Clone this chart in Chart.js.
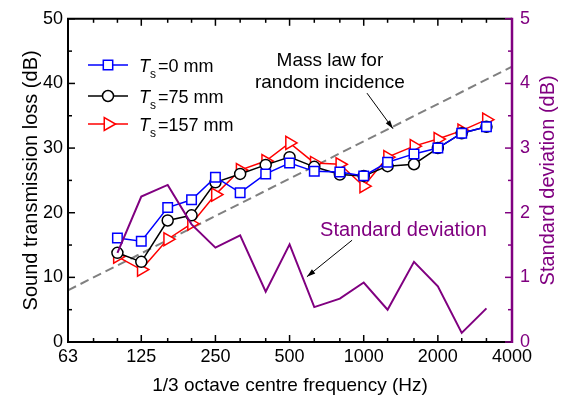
<!DOCTYPE html>
<html>
<head>
<meta charset="utf-8">
<script src="https://cdn.jsdelivr.net/npm/chart.js@4.4.1/dist/chart.umd.min.js"></script>
<style>
  html, body { margin: 0; padding: 0; background: #fff; }
  canvas { display: block; }
</style>
</head>
<body>
<canvas id="stlChart" width="564" height="400"></canvas>
<script>
// 1/3 octave band centres (Hz)
const freqs = [100, 125, 160, 200, 250, 315, 400, 500, 630, 800, 1000, 1250, 1600, 2000, 2500, 3150];
// sound transmission loss (dB)
const stl0 = [16.1, 15.6, 20.8, 22.0, 25.5, 23.1, 26.0, 27.7, 26.4, 26.3, 25.7, 27.8, 29.1, 30.0, 32.3, 33.3];
const stl75 = [13.8, 12.4, 18.8, 19.6, 24.7, 26.0, 27.4, 28.6, 27.1, 25.9, 25.7, 27.2, 27.5, 30.0, 32.3, 33.3];
const stl157 = [13.2, 11.2, 15.9, 18.3, 22.8, 26.6, 28.0, 30.8, 27.7, 27.5, 24.1, 28.6, 30.3, 31.4, 32.7, 34.4];
// standard deviation (dB), right axis
const stdDev = [1.38, 2.25, 2.43, 1.82, 1.46, 1.65, 0.78, 1.51, 0.54, 0.67, 0.92, 0.50, 1.24, 0.86, 0.14, 0.52];
// mass law for random incidence (end points)
const massLawFreqs = [63, 4000];
const massLawTL = [8.0, 42.6];

const xMajorTicks = [63, 125, 250, 500, 1000, 2000, 4000];
const xMinorTicks = [80, 100, 160, 200, 315, 400, 630, 800, 1250, 1600, 2500, 3150];
const yTicks = [0, 10, 20, 30, 40, 50];
const yMinorTicks = [5, 15, 25, 35, 45];
const y1Ticks = [0, 1, 2, 3, 4, 5];
const y1MinorTicks = [0.5, 1.5, 2.5, 3.5, 4.5];

const legendLabels = ['0 mm', '75 mm', '157 mm'];

const PURPLE = '#800080';
const FONT = "'Liberation Sans', Arial, sans-serif";

const toPoints = (xs, ys) => xs.map((x, i) => ({ x: x, y: ys[i] }));

function drawMarker(ctx, style, x, y, color) {
    ctx.save();
    ctx.fillStyle = '#fff';
    ctx.strokeStyle = color;
    ctx.lineWidth = 1.5;
    ctx.beginPath();
    if (style === 'rect') {
        ctx.rect(x - 4.7, y - 4.7, 9.4, 9.4);
    } else if (style === 'circle') {
        ctx.arc(x, y, 5.5, 0, Math.PI * 2);
    } else {
        const r = 7.5;
        ctx.moveTo(x + r, y);
        ctx.lineTo(x + r * Math.cos(2 * Math.PI / 3), y + r * Math.sin(2 * Math.PI / 3));
        ctx.lineTo(x + r * Math.cos(4 * Math.PI / 3), y + r * Math.sin(4 * Math.PI / 3));
        ctx.closePath();
    }
    ctx.fill();
    ctx.stroke();
    ctx.restore();
}

function drawArrow(ctx, x0, y0, x1, y1) {
    const ang = Math.atan2(y1 - y0, x1 - x0);
    ctx.beginPath();
    ctx.moveTo(x0, y0);
    ctx.lineTo(x1, y1);
    ctx.stroke();
    ctx.beginPath();
    ctx.moveTo(x1, y1);
    ctx.lineTo(x1 - 9 * Math.cos(ang - 0.3), y1 - 9 * Math.sin(ang - 0.3));
    ctx.lineTo(x1 - 9 * Math.cos(ang + 0.3), y1 - 9 * Math.sin(ang + 0.3));
    ctx.closePath();
    ctx.fill();
}

// axis frame with inward ticks
const framePlugin = {
    id: 'frame',
    afterDatasetsDraw(chart) {
        const { ctx, chartArea: a, scales } = chart;
        const line = (x0, y0, x1, y1) => {
            ctx.beginPath();
            ctx.moveTo(x0, y0);
            ctx.lineTo(x1, y1);
            ctx.stroke();
        };
        ctx.save();
        ctx.lineWidth = 1.5;
        ctx.strokeStyle = '#000';
        xMajorTicks.forEach(v => {
            const px = scales.x.getPixelForValue(v);
            line(px, a.bottom, px, a.bottom - 7);
            line(px, a.top, px, a.top + 7);
        });
        xMinorTicks.forEach(v => {
            const px = scales.x.getPixelForValue(v);
            line(px, a.bottom, px, a.bottom - 4);
            line(px, a.top, px, a.top + 4);
        });
        yTicks.forEach(v => {
            const py = scales.y.getPixelForValue(v);
            line(a.left, py, a.left + 7, py);
        });
        yMinorTicks.forEach(v => {
            const py = scales.y.getPixelForValue(v);
            line(a.left, py, a.left + 4, py);
        });
        ctx.lineWidth = 2;
        ctx.beginPath();
        ctx.moveTo(a.right, a.top);
        ctx.lineTo(a.left, a.top);
        ctx.lineTo(a.left, a.bottom);
        ctx.lineTo(a.right, a.bottom);
        ctx.stroke();

        ctx.strokeStyle = PURPLE;
        ctx.lineWidth = 1.5;
        y1Ticks.forEach(v => {
            const py = scales.y1.getPixelForValue(v);
            line(a.right, py, a.right - 7, py);
        });
        y1MinorTicks.forEach(v => {
            const py = scales.y1.getPixelForValue(v);
            line(a.right, py, a.right - 4, py);
        });
        ctx.lineWidth = 2.5;
        line(a.right, a.top - 1, a.right, a.bottom + 1);
        ctx.restore();
    }
};

// legend, right axis title and text notes
const notesPlugin = {
    id: 'notes',
    afterDraw(chart) {
        const { ctx, chartArea: a, scales } = chart;
        const sx = v => scales.x.getPixelForValue(v);
        const sy = v => scales.y.getPixelForValue(v);
        const sy1 = v => scales.y1.getPixelForValue(v);
        ctx.save();

        // legend
        const styles = [['rect', '#0000ff'], ['circle', '#000'], ['triangle', '#ff0000']];
        const rowsY = [65, 96, 124];
        styles.forEach((s, i) => {
            const y = rowsY[i];
            ctx.strokeStyle = s[1];
            ctx.lineWidth = 1.5;
            ctx.beginPath();
            ctx.moveTo(88, y);
            ctx.lineTo(128, y);
            ctx.stroke();
            drawMarker(ctx, s[0], 108, y, s[1]);
            ctx.fillStyle = '#000';
            ctx.textAlign = 'left';
            ctx.textBaseline = 'alphabetic';
            ctx.font = 'italic 18px ' + FONT;
            ctx.fillText('T', 139, y + 7);
            ctx.font = '12px ' + FONT;
            ctx.fillText('s', 150, y + 13);
            ctx.font = '18px ' + FONT;
            ctx.fillText('=' + legendLabels[i], 158, y + 7);
        });

        // right axis title
        ctx.save();
        ctx.translate(548, (a.top + a.bottom) / 2);
        ctx.rotate(-Math.PI / 2);
        ctx.fillStyle = PURPLE;
        ctx.font = '20px ' + FONT;
        ctx.textAlign = 'center';
        ctx.textBaseline = 'middle';
        ctx.fillText('Standard deviation (dB)', 0, 0);
        ctx.restore();

        // mass law note
        ctx.fillStyle = '#000';
        ctx.strokeStyle = '#000';
        ctx.lineWidth = 1;
        ctx.font = '19px ' + FONT;
        ctx.textAlign = 'center';
        ctx.textBaseline = 'alphabetic';
        ctx.fillText('Mass law for', sx(729), sy(42.7));
        ctx.fillText('random incidence', sx(729), sy(39.3));
        drawArrow(ctx, sx(1031), sy(38.5), sx(1315), sy(33.0));

        // standard deviation note
        ctx.fillStyle = PURPLE;
        ctx.font = '20px ' + FONT;
        ctx.textAlign = 'left';
        ctx.fillText('Standard deviation', sx(665), sy1(1.64));
        ctx.fillStyle = '#000';
        drawArrow(ctx, sx(897), sy1(1.575), sx(588), sy1(1.01));

        ctx.restore();
    }
};

const tickFont = { family: FONT, size: 18 };

new Chart(document.getElementById('stlChart'), {
    type: 'line',
    data: {
        datasets: [{
            label: 'Standard deviation',
            data: toPoints(freqs, stdDev),
            yAxisID: 'y1',
            borderColor: PURPLE,
            borderWidth: 2,
            pointRadius: 0,
            fill: false
        }, {
            label: 'Ts=0 mm',
            data: toPoints(freqs, stl0),
            yAxisID: 'y',
            borderColor: '#0000ff',
            borderWidth: 1.5,
            pointStyle: 'rect',
            pointRadius: 6.7,
            pointBorderWidth: 1.5,
            pointBorderColor: '#0000ff',
            pointBackgroundColor: '#fff',
            fill: false
        }, {
            label: 'Ts=75 mm',
            data: toPoints(freqs, stl75),
            yAxisID: 'y',
            borderColor: '#000',
            borderWidth: 1.5,
            pointStyle: 'circle',
            pointRadius: 5.5,
            pointBorderWidth: 1.5,
            pointBorderColor: '#000',
            pointBackgroundColor: '#fff',
            fill: false
        }, {
            label: 'Ts=157 mm',
            data: toPoints(freqs, stl157),
            yAxisID: 'y',
            borderColor: '#ff0000',
            borderWidth: 1.5,
            pointStyle: 'triangle',
            rotation: 90,
            pointRadius: 7.5,
            pointBorderWidth: 1.5,
            pointBorderColor: '#ff0000',
            pointBackgroundColor: '#fff',
            fill: false
        }, {
            label: 'Mass law',
            data: toPoints(massLawFreqs, massLawTL),
            yAxisID: 'y',
            borderColor: '#808080',
            borderWidth: 2,
            borderDash: [9, 5],
            pointRadius: 0,
            fill: false
        }]
    },
    options: {
        responsive: false,
        devicePixelRatio: 1,
        animation: false,
        layout: { padding: { top: 15, left: 0, right: 0, bottom: 0 } },
        plugins: {
            legend: { display: false },
            tooltip: { enabled: false }
        },
        scales: {
            x: {
                type: 'logarithmic',
                min: 63,
                max: 4000,
                grid: { display: false, drawTicks: false },
                border: { display: false },
                afterBuildTicks: scale => {
                    scale.ticks = xMajorTicks.map(v => ({ value: v }));
                },
                ticks: {
                    color: '#000',
                    font: tickFont,
                    padding: 4,
                    autoSkip: false,
                    maxRotation: 0,
                    callback: value => String(value)
                },
                title: {
                    display: true,
                    text: '1/3 octave centre frequency (Hz)',
                    color: '#000',
                    font: { family: FONT, size: 19 },
                    padding: { top: 0, bottom: 3 }
                },
                afterFit: scale => { scale.height = 58; }
            },
            y: {
                position: 'left',
                min: 0,
                max: 50,
                grid: { display: false, drawTicks: false },
                border: { display: false },
                afterBuildTicks: scale => {
                    scale.ticks = yTicks.map(v => ({ value: v }));
                },
                ticks: { color: '#000', font: tickFont, padding: 5 },
                title: {
                    display: true,
                    text: 'Sound transmission loss (dB)',
                    color: '#000',
                    font: { family: FONT, size: 20 },
                    padding: { top: 19, bottom: 0 }
                },
                afterFit: scale => { scale.width = 68; }
            },
            y1: {
                position: 'right',
                min: 0,
                max: 5,
                grid: { display: false, drawTicks: false },
                border: { display: false },
                afterBuildTicks: scale => {
                    scale.ticks = y1Ticks.map(v => ({ value: v }));
                },
                ticks: { color: PURPLE, font: tickFont, padding: 8 },
                afterFit: scale => { scale.width = 52; }
            }
        }
    },
    plugins: [framePlugin, notesPlugin]
});
</script>
</body>
</html>
